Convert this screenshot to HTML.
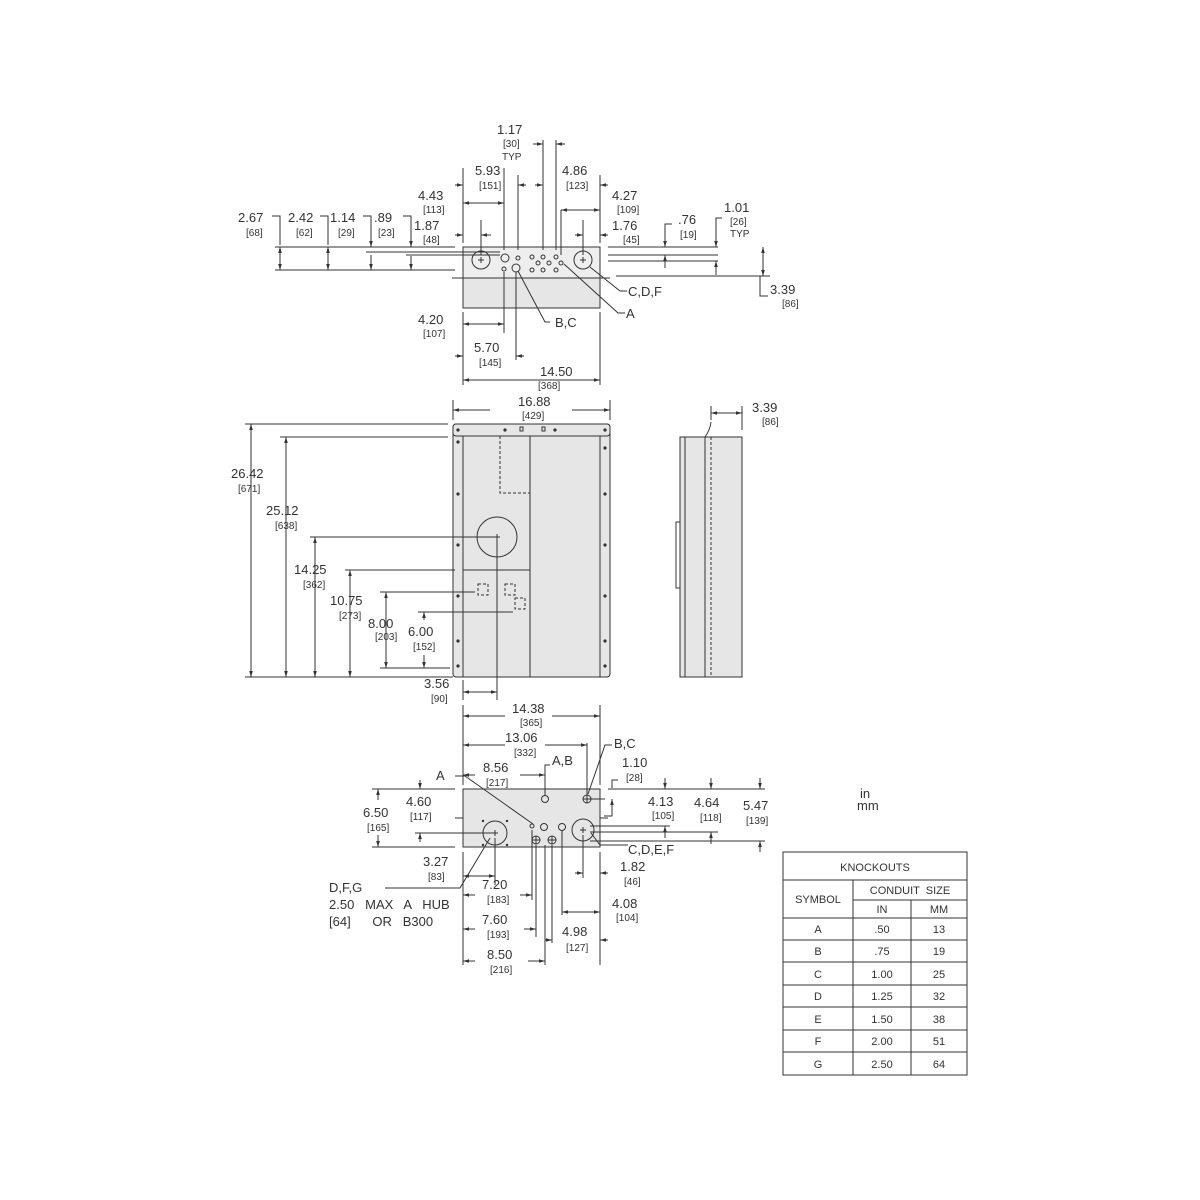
<!DOCTYPE html>
<html><head><meta charset="utf-8"><style>
html,body{margin:0;padding:0;background:#fff}
svg{display:block}
text{font-family:"Liberation Sans",sans-serif;fill:#333;white-space:pre}
.n{font-size:13px}
.b{font-size:10px}
.t{font-size:11px}
</style></head><body>
<svg width="1200" height="1200" viewBox="0 0 1200 1200" xmlns="http://www.w3.org/2000/svg" xml:space="preserve">
<defs><marker id="a" viewBox="0 0 10 10" refX="10" refY="5" markerWidth="6" markerHeight="6" orient="auto-start-reverse"><path d="M0,2 L10,5 L0,8z" fill="#333"/></marker></defs>
<g stroke="#333" stroke-width="1" fill="none">
<rect x="463" y="247" width="137" height="61" fill="#e6e6e6"/>
<rect x="463" y="247" width="137" height="31" fill="#eee"/>
<line x1="452" y1="278" x2="610" y2="278"/>
<circle cx="481" cy="260" r="9" fill="#eee"/><circle cx="583" cy="260" r="9" fill="#eee"/>
<path d="M478,260 h6 M481,257 v6 M580,260 h6 M583,257 v6"/>
<circle cx="505" cy="258" r="4"/><circle cx="516" cy="268" r="4"/>
<circle cx="504" cy="269" r="2"/><circle cx="518" cy="258" r="2"/>
<circle cx="532" cy="257" r="2"/><circle cx="543" cy="257" r="2"/><circle cx="556" cy="257" r="2"/>
<circle cx="538" cy="263" r="2"/><circle cx="549" cy="263" r="2"/><circle cx="561" cy="263" r="2"/>
<circle cx="532" cy="270" r="2"/><circle cx="543" cy="270" r="2"/><circle cx="556" cy="270" r="2"/>
<line x1="275" y1="247" x2="455" y2="247"/><line x1="275" y1="270" x2="455" y2="270"/>
<line x1="366" y1="252" x2="500" y2="252"/><line x1="406" y1="255" x2="500" y2="255"/>
<line x1="608" y1="247" x2="718" y2="247"/><line x1="608" y1="255" x2="718" y2="255"/><line x1="608" y1="261" x2="718" y2="261"/>
<line x1="616" y1="276" x2="770" y2="276"/>
<line x1="280" y1="247" x2="280" y2="270" marker-start="url(#a)" marker-end="url(#a)"/>
<line x1="328" y1="247" x2="328" y2="270" marker-start="url(#a)" marker-end="url(#a)"/>
<line x1="371" y1="255" x2="371" y2="270" marker-end="url(#a)"/><line x1="371" y1="230" x2="371" y2="247" marker-end="url(#a)"/>
<line x1="411" y1="256" x2="411" y2="270" marker-end="url(#a)"/><line x1="411" y1="230" x2="411" y2="247" marker-end="url(#a)"/>
<line x1="763" y1="247" x2="763" y2="276" marker-start="url(#a)" marker-end="url(#a)"/>
<line x1="665" y1="235" x2="665" y2="247" marker-end="url(#a)"/><line x1="665" y1="268" x2="665" y2="255" marker-end="url(#a)"/>
<line x1="716" y1="235" x2="716" y2="247" marker-end="url(#a)"/><line x1="716" y1="275" x2="716" y2="261" marker-end="url(#a)"/>
<path d="M272,216 H280 V245"/><path d="M320,216 H328 V245"/><path d="M363,216 H371 V230"/><path d="M403,216 H411 V230"/>
<path d="M672,224 H665 V235"/><path d="M722,218 H716 V235"/><path d="M760,276 V296 H768"/>
<line x1="463" y1="168" x2="463" y2="243"/><line x1="504" y1="168" x2="504" y2="250"/><line x1="518" y1="175" x2="518" y2="250"/>
<line x1="543" y1="140" x2="543" y2="250"/><line x1="556" y1="140" x2="556" y2="250"/><line x1="561" y1="210" x2="561" y2="255"/>
<line x1="600" y1="175" x2="600" y2="243"/><line x1="481" y1="220" x2="481" y2="255"/><line x1="583" y1="220" x2="583" y2="255"/>
<line x1="455" y1="185" x2="463" y2="185" marker-end="url(#a)"/><line x1="526" y1="185" x2="518" y2="185" marker-end="url(#a)"/>
<line x1="463" y1="203" x2="504" y2="203" marker-start="url(#a)" marker-end="url(#a)"/>
<line x1="455" y1="235" x2="463" y2="235" marker-end="url(#a)"/><line x1="491" y1="235" x2="481" y2="235" marker-end="url(#a)"/>
<line x1="533" y1="144" x2="543" y2="144" marker-end="url(#a)"/><line x1="565" y1="144" x2="556" y2="144" marker-end="url(#a)"/>
<line x1="535" y1="185" x2="543" y2="185" marker-end="url(#a)"/>
<line x1="608" y1="185" x2="600" y2="185" marker-end="url(#a)"/>
<line x1="561" y1="210" x2="600" y2="210" marker-start="url(#a)" marker-end="url(#a)"/>
<line x1="575" y1="235" x2="583" y2="235" marker-end="url(#a)"/><line x1="608" y1="235" x2="600" y2="235" marker-end="url(#a)"/>
<line x1="463" y1="312" x2="463" y2="385"/><line x1="600" y1="312" x2="600" y2="385"/>
<line x1="504" y1="272" x2="504" y2="333"/><line x1="516" y1="272" x2="516" y2="360"/>
<line x1="463" y1="324" x2="504" y2="324" marker-start="url(#a)" marker-end="url(#a)"/>
<line x1="455" y1="356" x2="463" y2="356" marker-end="url(#a)"/><line x1="524" y1="356" x2="516" y2="356" marker-end="url(#a)"/>
<line x1="463" y1="380" x2="600" y2="380" marker-start="url(#a)" marker-end="url(#a)"/>
<path d="M518,271 L545,322 H550"/><path d="M564,264 L618,313 H625"/><path d="M590,267 L620,291 H627"/>
<rect x="453" y="424" width="157" height="253" rx="3" fill="#e6e6e6"/>
<rect x="453" y="424" width="157" height="12" rx="3" fill="#e6e6e6"/>
<line x1="463" y1="436" x2="463" y2="677"/><line x1="530" y1="436" x2="530" y2="677"/><line x1="600" y1="436" x2="600" y2="677"/>
<line x1="463" y1="570" x2="530" y2="570"/>
<path d="M500,436 V493 H530" stroke-dasharray="3,2"/>
<circle cx="497" cy="537" r="20"/>
<path d="M494,537 h6 M497,534 v6"/>
<g fill="#333" stroke="none">
<circle cx="458" cy="430" r="1.6"/><circle cx="505" cy="430" r="1.6"/><circle cx="555" cy="430" r="1.6"/><circle cx="605" cy="430" r="1.6"/>
<circle cx="458" cy="442" r="1.6"/><circle cx="458" cy="494" r="1.6"/><circle cx="458" cy="545" r="1.6"/><circle cx="458" cy="596" r="1.6"/><circle cx="458" cy="641" r="1.6"/><circle cx="458" cy="666" r="1.6"/>
<circle cx="605" cy="448" r="1.6"/><circle cx="605" cy="494" r="1.6"/><circle cx="605" cy="545" r="1.6"/><circle cx="605" cy="596" r="1.6"/><circle cx="605" cy="641" r="1.6"/><circle cx="605" cy="666" r="1.6"/>
</g>
<rect x="520" y="427" width="3" height="4"/><rect x="542" y="427" width="3" height="4"/>
<g stroke-dasharray="3,2"><rect x="478" y="584" width="10" height="11"/><rect x="505" y="584" width="10" height="11"/><rect x="515" y="598" width="10" height="11"/></g>
<line x1="453" y1="400" x2="453" y2="420"/><line x1="610" y1="400" x2="610" y2="420"/>
<line x1="453" y1="410" x2="490" y2="410" marker-start="url(#a)"/><line x1="572" y1="410" x2="610" y2="410" marker-end="url(#a)"/>
<line x1="245" y1="424" x2="448" y2="424"/><line x1="280" y1="437" x2="448" y2="437"/><line x1="310" y1="537" x2="497" y2="537"/>
<line x1="345" y1="570" x2="455" y2="570"/><line x1="380" y1="592" x2="475" y2="592"/><line x1="418" y1="612" x2="513" y2="612"/>
<line x1="245" y1="677" x2="453" y2="677"/><line x1="380" y1="668" x2="450" y2="668"/>
<line x1="251" y1="424" x2="251" y2="677" marker-start="url(#a)" marker-end="url(#a)"/>
<line x1="286" y1="437" x2="286" y2="677" marker-start="url(#a)" marker-end="url(#a)"/>
<line x1="315" y1="537" x2="315" y2="677" marker-start="url(#a)" marker-end="url(#a)"/>
<line x1="350" y1="570" x2="350" y2="677" marker-start="url(#a)" marker-end="url(#a)"/>
<line x1="386" y1="592" x2="386" y2="668" marker-start="url(#a)" marker-end="url(#a)"/>
<line x1="424" y1="612" x2="424" y2="620" marker-start="url(#a)"/><line x1="424" y1="655" x2="424" y2="668" marker-end="url(#a)"/>
<line x1="497" y1="540" x2="497" y2="700"/><line x1="463" y1="680" x2="463" y2="700"/>
<line x1="463" y1="692" x2="497" y2="692" marker-start="url(#a)" marker-end="url(#a)"/>
<rect x="685" y="437" width="57" height="240" fill="#e6e6e6"/>
<rect x="680" y="437" width="5" height="240" fill="#e6e6e6"/>
<line x1="705" y1="437" x2="705" y2="677"/><line x1="711" y1="437" x2="711" y2="677" stroke-dasharray="3,2"/>
<path d="M680,522 H676 V588 H680"/>
<path d="M705,437 Q710,430 711,422"/>
<line x1="711" y1="406" x2="711" y2="420"/><line x1="742" y1="406" x2="742" y2="430"/>
<line x1="711" y1="413" x2="742" y2="413" marker-start="url(#a)" marker-end="url(#a)"/>
<rect x="463" y="789" width="137" height="58" fill="#e6e6e6"/>
<circle cx="495" cy="833" r="12"/><path d="M492,833 h6 M495,830 v6"/>
<circle cx="583" cy="830" r="11"/><path d="M580,830 h6 M583,827 v6"/>
<circle cx="545" cy="799" r="3.5"/><circle cx="587" cy="799" r="4"/><path d="M583,799 h8 M587,795 v8"/>
<circle cx="532" cy="826" r="2"/><circle cx="544" cy="827" r="3.5"/><circle cx="562" cy="827" r="3.5"/>
<circle cx="536" cy="840" r="4"/><path d="M532,840 h8 M536,836 v8"/>
<circle cx="552" cy="840" r="4"/><path d="M548,840 h8 M552,836 v8"/>
<g fill="#333" stroke="none"><circle cx="483" cy="821" r="1.2"/><circle cx="507" cy="821" r="1.2"/><circle cx="483" cy="845" r="1.2"/><circle cx="507" cy="845" r="1.2"/></g>
<line x1="463" y1="705" x2="463" y2="785"/><line x1="600" y1="705" x2="600" y2="785"/>
<line x1="463" y1="716" x2="505" y2="716" marker-start="url(#a)"/><line x1="552" y1="716" x2="600" y2="716" marker-end="url(#a)"/>
<line x1="587" y1="743" x2="587" y2="795"/>
<line x1="463" y1="745" x2="505" y2="745" marker-start="url(#a)"/><line x1="545" y1="745" x2="587" y2="745" marker-end="url(#a)"/>
<line x1="463" y1="775" x2="475" y2="775" marker-start="url(#a)"/><line x1="520" y1="775" x2="545" y2="775" marker-end="url(#a)"/>
<path d="M545,795 V765 H550"/><path d="M588,794 L605,745 H612"/><path d="M533,824 L465,776 H455"/>
<line x1="372" y1="789" x2="455" y2="789"/><line x1="372" y1="847" x2="455" y2="847"/><line x1="415" y1="833" x2="495" y2="833"/>
<line x1="455" y1="818" x2="463" y2="818"/>
<line x1="378" y1="789" x2="378" y2="800" marker-start="url(#a)"/><line x1="378" y1="835" x2="378" y2="847" marker-end="url(#a)"/>
<line x1="420" y1="780" x2="420" y2="789" marker-end="url(#a)"/><line x1="420" y1="842" x2="420" y2="833" marker-end="url(#a)"/>
<line x1="608" y1="789" x2="765" y2="789"/><line x1="591" y1="799" x2="605" y2="799"/>
<line x1="600" y1="818" x2="608" y2="818"/>
<line x1="590" y1="826" x2="670" y2="826"/><line x1="590" y1="832" x2="718" y2="832"/><line x1="590" y1="841" x2="765" y2="841"/>
<line x1="612" y1="804" x2="612" y2="799" marker-end="url(#a)"/><path d="M612,788 V780 H618"/><path d="M612,804 V816 H604"/>
<line x1="665" y1="778" x2="665" y2="789" marker-end="url(#a)"/><line x1="665" y1="838" x2="665" y2="826" marker-end="url(#a)"/>
<line x1="711" y1="778" x2="711" y2="789" marker-end="url(#a)"/><line x1="711" y1="844" x2="711" y2="832" marker-end="url(#a)"/>
<line x1="760" y1="778" x2="760" y2="789" marker-end="url(#a)"/><line x1="760" y1="852" x2="760" y2="841" marker-end="url(#a)"/>
<path d="M490,838 L460,888 H385"/><path d="M591,833 L600,845 H628"/>
<line x1="463" y1="852" x2="463" y2="965"/><line x1="600" y1="852" x2="600" y2="965"/>
<line x1="495" y1="838" x2="495" y2="885"/><line x1="583" y1="835" x2="583" y2="878"/>
<line x1="532" y1="830" x2="532" y2="900"/><line x1="536" y1="845" x2="536" y2="937"/><line x1="545" y1="845" x2="545" y2="965"/><line x1="552" y1="845" x2="552" y2="943"/><line x1="562" y1="831" x2="562" y2="915"/>
<line x1="463" y1="876" x2="495" y2="876" marker-start="url(#a)" marker-end="url(#a)"/>
<line x1="575" y1="873" x2="583" y2="873" marker-end="url(#a)"/><line x1="608" y1="873" x2="600" y2="873" marker-end="url(#a)"/>
<line x1="463" y1="895" x2="475" y2="895" marker-start="url(#a)"/><line x1="520" y1="895" x2="532" y2="895" marker-end="url(#a)"/>
<line x1="562" y1="912" x2="600" y2="912" marker-start="url(#a)" marker-end="url(#a)"/>
<line x1="463" y1="929" x2="475" y2="929" marker-start="url(#a)"/><line x1="524" y1="929" x2="536" y2="929" marker-end="url(#a)"/>
<line x1="545" y1="940" x2="552" y2="940" marker-end="url(#a)"/><line x1="608" y1="940" x2="600" y2="940" marker-end="url(#a)"/>
<line x1="463" y1="961" x2="475" y2="961" marker-start="url(#a)"/><line x1="528" y1="961" x2="545" y2="961" marker-end="url(#a)"/>
<rect x="783" y="852" width="184" height="223"/>
<line x1="783" y1="880" x2="967" y2="880"/><line x1="853" y1="900" x2="967" y2="900"/>
<line x1="853" y1="880" x2="853" y2="1075"/><line x1="911" y1="900" x2="911" y2="1075"/>
<line x1="783" y1="918" x2="967" y2="918"/><line x1="783" y1="940" x2="967" y2="940"/><line x1="783" y1="962" x2="967" y2="962"/><line x1="783" y1="985" x2="967" y2="985"/><line x1="783" y1="1007" x2="967" y2="1007"/><line x1="783" y1="1030" x2="967" y2="1030"/><line x1="783" y1="1052" x2="967" y2="1052"/>
</g>
<g class="n">
<text x="497" y="134">1.17</text><text x="475" y="175">5.93</text><text x="562" y="175">4.86</text>
<text x="418" y="200">4.43</text><text x="612" y="200">4.27</text>
<text x="238" y="222">2.67</text><text x="288" y="222">2.42</text><text x="330" y="222">1.14</text><text x="374" y="222">.89</text><text x="414" y="230">1.87</text><text x="612" y="230">1.76</text>
<text x="678" y="224">.76</text><text x="724" y="212">1.01</text><text x="770" y="294">3.39</text>
<text x="628" y="296">C,D,F</text><text x="626" y="318">A</text><text x="555" y="327">B,C</text>
<text x="418" y="324">4.20</text><text x="474" y="352">5.70</text><text x="540" y="376">14.50</text>
<text x="518" y="406">16.88</text><text x="752" y="412">3.39</text>
<text x="231" y="478">26.42</text><text x="266" y="515">25.12</text><text x="294" y="574">14.25</text><text x="330" y="605">10.75</text><text x="368" y="628">8.00</text><text x="408" y="636">6.00</text><text x="424" y="688">3.56</text>
<text x="512" y="713">14.38</text><text x="505" y="742">13.06</text><text x="483" y="772">8.56</text><text x="436" y="780">A</text><text x="552" y="765">A,B</text><text x="614" y="748">B,C</text><text x="622" y="767">1.10</text>
<text x="363" y="817">6.50</text><text x="406" y="806">4.60</text><text x="648" y="806">4.13</text><text x="694" y="807">4.64</text><text x="743" y="810">5.47</text>
<text x="628" y="854">C,D,E,F</text><text x="423" y="866">3.27</text><text x="620" y="871">1.82</text>
<text x="329" y="892">D,F,G</text><text x="329" y="909">2.50   MAX   A   HUB</text><text x="329" y="926">[64]      OR   B300</text>
<text x="482" y="889">7.20</text><text x="612" y="908">4.08</text><text x="482" y="924">7.60</text><text x="562" y="936">4.98</text><text x="487" y="959">8.50</text>
<text x="860" y="798">in</text><text x="857" y="810">mm</text>
</g>
<g class="b">
<text x="503" y="147">[30]</text><text x="502" y="160">TYP</text><text x="479" y="189">[151]</text><text x="566" y="189">[123]</text>
<text x="423" y="213">[113]</text><text x="617" y="213">[109]</text>
<text x="246" y="236">[68]</text><text x="296" y="236">[62]</text><text x="338" y="236">[29]</text><text x="378" y="236">[23]</text><text x="423" y="243">[48]</text><text x="623" y="243">[45]</text>
<text x="680" y="238">[19]</text><text x="730" y="225">[26]</text><text x="730" y="237">TYP</text><text x="782" y="307">[86]</text>
<text x="423" y="337">[107]</text><text x="479" y="366">[145]</text><text x="538" y="389">[368]</text>
<text x="522" y="419">[429]</text><text x="762" y="425">[86]</text>
<text x="238" y="492">[671]</text><text x="275" y="529">[638]</text><text x="303" y="588">[362]</text><text x="339" y="619">[273]</text><text x="375" y="640">[203]</text><text x="413" y="650">[152]</text><text x="431" y="702">[90]</text>
<text x="520" y="726">[365]</text><text x="514" y="756">[332]</text><text x="486" y="786">[217]</text><text x="626" y="781">[28]</text>
<text x="367" y="831">[165]</text><text x="410" y="820">[117]</text><text x="652" y="819">[105]</text><text x="700" y="821">[118]</text><text x="746" y="824">[139]</text>
<text x="428" y="880">[83]</text><text x="624" y="885">[46]</text><text x="487" y="903">[183]</text><text x="616" y="921">[104]</text><text x="487" y="938">[193]</text><text x="566" y="951">[127]</text><text x="490" y="973">[216]</text>
</g>
<g class="t" text-anchor="middle">
<text x="875" y="871">KNOCKOUTS</text><text x="910" y="894">CONDUIT  SIZE</text><text x="818" y="903">SYMBOL</text><text x="882" y="913">IN</text><text x="939" y="913">MM</text>
<text x="818" y="933">A</text><text x="882" y="933">.50</text><text x="939" y="933">13</text>
<text x="818" y="955">B</text><text x="882" y="955">.75</text><text x="939" y="955">19</text>
<text x="818" y="978">C</text><text x="882" y="978">1.00</text><text x="939" y="978">25</text>
<text x="818" y="1000">D</text><text x="882" y="1000">1.25</text><text x="939" y="1000">32</text>
<text x="818" y="1023">E</text><text x="882" y="1023">1.50</text><text x="939" y="1023">38</text>
<text x="818" y="1045">F</text><text x="882" y="1045">2.00</text><text x="939" y="1045">51</text>
<text x="818" y="1068">G</text><text x="882" y="1068">2.50</text><text x="939" y="1068">64</text>
</g>
</svg>
</body></html>
